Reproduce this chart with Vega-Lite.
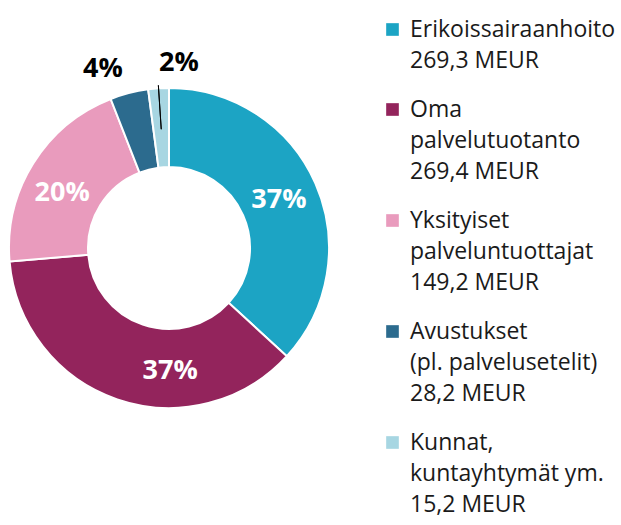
{
  "$schema": "https://vega.github.io/schema/vega-lite/v6.json",
  "width": 338,
  "height": 496,
  "padding": 0,
  "background": "white",
  "config": {"view": {"stroke": null}, "font": "Open Sans", "style": {"guide-label": {"lineHeight": 31}}},
  "data": {
    "values": [
      {"order": 1, "legend": "Erikoissairaanhoito\n269,3 MEUR", "value": 269.3},
      {"order": 2, "legend": "Oma\npalvelutuotanto\n269,4 MEUR", "value": 269.4},
      {"order": 3, "legend": "Yksityiset\npalveluntuottajat\n149,2 MEUR", "value": 149.2},
      {"order": 4, "legend": "Avustukset\n(pl. palvelusetelit)\n28,2 MEUR", "value": 28.2},
      {"order": 5, "legend": "Kunnat,\nkuntayhtymät ym.\n15,2 MEUR", "value": 15.2}
    ]
  },
  "transform": [
    {"joinaggregate": [{"op": "sum", "field": "value", "as": "total"}]},
    {"calculate": "datum.value / datum.total", "as": "share"},
    {"stack": "share", "groupby": [], "sort": [{"field": "order", "order": "ascending"}], "as": ["v0", "v1"]},
    {"calculate": "(datum.v0 + datum.v1) / 2", "as": "mid"}
  ],
  "layer": [
    {
      "mark": {"type": "arc", "outerRadius": 160, "innerRadius": 81, "stroke": "white", "strokeWidth": 2},
      "encoding": {
        "theta": {"field": "v0", "type": "quantitative", "stack": null, "scale": {"domain": [0, 1], "nice": false, "zero": true}},
        "theta2": {"field": "v1"},
        "color": {
          "field": "legend",
          "type": "nominal",
          "sort": {"field": "order"},
          "scale": {"range": ["#1ca4c4", "#93245c", "#e99bbd", "#2c6b8e", "#a7d6e2"]},
          "legend": {
            "title": null,
            "orient": "none",
            "legendX": 381,
            "legendY": 18,
            "padding": 0,
            "symbolType": "square",
            "symbolSize": 160,
            "symbolStrokeWidth": 0,
            "labelFont": "Open Sans",
            "labelFontSize": 23,
            "labelColor": "#1a1a1a",
            "labelLimit": 0,
            "labelOffset": 6,
            "rowPadding": 25,
            "labelExpr": "split(datum.label, '\\n')"
          }
        }
      }
    },
    {
      "transform": [{"filter": "datum.order == 1"}],
      "mark": {"type": "text", "radius": 120, "fontSize": 27, "fontWeight": "bold", "fill": "white", "font": "Open Sans"},
      "encoding": {
        "theta": {"field": "mid", "type": "quantitative", "stack": null},
        "text": {"field": "share", "type": "quantitative", "format": ".0%"}
      }
    },
    {
      "transform": [{"filter": "datum.order == 2"}],
      "mark": {"type": "text", "radius": 120, "dx": 40, "dy": 9, "fontSize": 27, "fontWeight": "bold", "fill": "white", "font": "Open Sans"},
      "encoding": {
        "theta": {"field": "mid", "type": "quantitative", "stack": null},
        "text": {"field": "share", "type": "quantitative", "format": ".0%"}
      }
    },
    {
      "transform": [{"filter": "datum.order == 3"}],
      "mark": {"type": "text", "radius": 120, "dx": -5, "dy": 8, "fontSize": 27, "fontWeight": "bold", "fill": "white", "font": "Open Sans"},
      "encoding": {
        "theta": {"field": "mid", "type": "quantitative", "stack": null},
        "text": {"field": "share", "type": "quantitative", "format": ".0%"}
      }
    },
    {
      "transform": [{"filter": "datum.order == 4"}],
      "mark": {"type": "text", "radius": 185, "dx": -20, "fontSize": 27, "fontWeight": "bold", "fill": "black", "font": "Open Sans"},
      "encoding": {
        "theta": {"field": "mid", "type": "quantitative", "stack": null},
        "text": {"field": "share", "type": "quantitative", "format": ".0%"}
      }
    },
    {
      "transform": [{"filter": "datum.order == 5"}],
      "mark": {"type": "text", "radius": 185, "dx": 22, "fontSize": 27, "fontWeight": "bold", "fill": "black", "font": "Open Sans"},
      "encoding": {
        "theta": {"field": "mid", "type": "quantitative", "stack": null},
        "text": {"field": "share", "type": "quantitative", "format": ".0%"}
      }
    },
    {
      "transform": [{"filter": "datum.order == 5"}],
      "mark": {"type": "arc", "outerRadius": 163, "innerRadius": 119, "stroke": "black", "strokeWidth": 1, "fillOpacity": 0},
      "encoding": {
        "theta": {"field": "mid", "type": "quantitative", "stack": null},
        "theta2": {"field": "mid"}
      }
    }
  ]
}
